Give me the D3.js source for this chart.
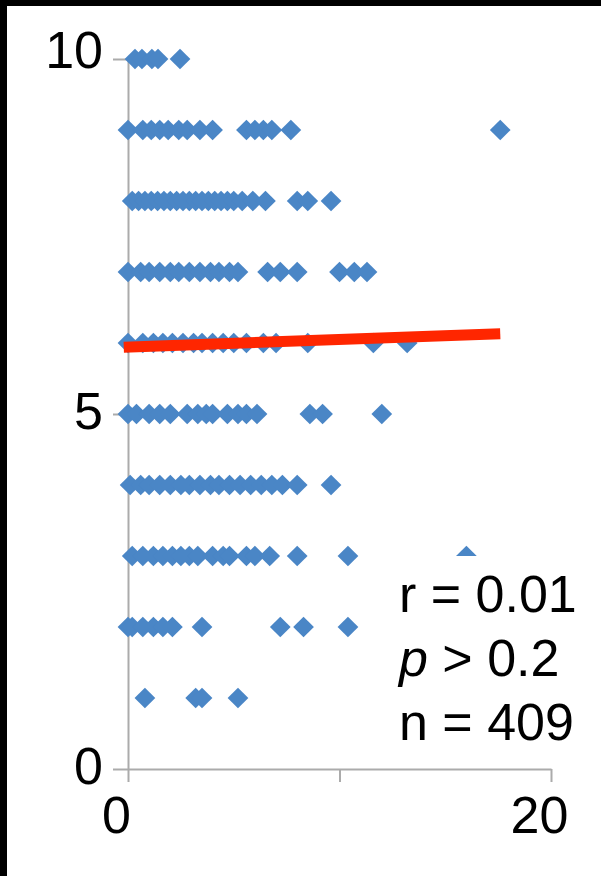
<!DOCTYPE html>
<html>
<head>
<meta charset="utf-8">
<script src="https://cdn.jsdelivr.net/npm/d3@7"></script>
<style>
  body { margin: 0; background: #fff; }
  svg { display: block; }
  .axis path, .axis line { stroke: #ababab; stroke-width: 2; }
  .axis text { font-family: "Liberation Sans", Arial, sans-serif; font-size: 52px; fill: #000; }
  .stats { font-family: "Liberation Sans", Arial, sans-serif; font-size: 52px; fill: #000; }
</style>
</head>
<body>
<div id="chart"></div>
<script>
// values, one array per rating level
const levels = [10, 9, 8, 7, 6, 5, 4, 3, 2, 1];
const row10 = [0.33, 0.66, 1.13, 1.42, 2.46];
const row9 = [0, 0.7, 1.1, 1.5, 1.9, 2.4, 2.8, 3.4, 4.0, 5.6, 6.0, 6.4, 6.8, 7.7, 17.6];
const row8 = [0.2, 0.5, 0.8, 1.1, 1.4, 1.7, 2.0, 2.3, 2.6, 2.9, 3.2, 3.5, 3.8, 4.1, 4.4, 4.7, 5.0, 5.4, 5.9, 6.5, 8.0, 8.5, 9.6];
const row7 = [0, 0.6, 1.0, 1.5, 2.0, 2.4, 2.9, 3.4, 3.9, 4.3, 4.8, 5.2, 6.6, 7.2, 8.0, 10.0, 10.7, 11.3];
const row6 = [0, 0.7, 1.2, 1.65, 2.1, 2.6, 3.1, 3.5, 4.0, 4.5, 5.0, 5.6, 6.4, 7.0, 8.5, 11.6, 13.2];
const row5 = [0, 0.4, 1.0, 1.5, 2.0, 2.8, 3.3, 3.7, 4.0, 4.7, 5.2, 5.6, 6.1, 8.6, 9.2, 12.0];
const row4 = [0.1, 0.6, 1.0, 1.5, 2.0, 2.5, 2.9, 3.4, 3.9, 4.3, 4.8, 5.3, 5.8, 6.3, 6.8, 7.3, 8.0, 9.6];
const row3 = [0.2, 0.7, 1.2, 1.65, 2.1, 2.5, 2.9, 3.3, 4.0, 4.5, 4.8, 5.6, 6.0, 6.7, 8.0, 10.4, 16.0];
const row2 = [0, 0.2, 0.7, 1.2, 1.65, 2.1, 3.5, 7.2, 8.3, 10.4];
const row1 = [0.8, 3.2, 3.5, 5.2];
const rows = [row10, row9, row8, row7, row6, row5, row4, row3, row2, row1];

// fitted line end points
const fitX = [-0.2, 17.6];
const fitY = [5.94, 6.13];

const xTicks = [0, 10, 20];
const xLabels = ["0", "", "20"];
const yTicks = [0, 5, 10];
const stats = ["r = 0.01", "p > 0.2", "n = 409"];

const W = 601, H = 876;

const svg = d3.select("#chart").append("svg")
    .attr("width", W)
    .attr("height", H);

svg.append("rect").attr("width", W).attr("height", H).attr("fill", "#fff");

const x = d3.scaleLinear().domain([0, 20]).range([128, 551]);
const y = d3.scaleLinear().domain([0, 10]).range([769, 59]);

// axes
const xAxis = svg.append("g")
    .attr("class", "axis")
    .attr("transform", `translate(0,${y(0)})`)
    .call(d3.axisBottom(x)
        .tickValues(xTicks)
        .tickSize(13)
        .tickSizeOuter(0)
        .tickPadding(14)
        .tickFormat((d, i) => xLabels[i]));
xAxis.selectAll("text").attr("dx", -12);

const yAxis = svg.append("g")
    .attr("class", "axis")
    .attr("transform", `translate(${x(0)},0)`)
    .call(d3.axisLeft(y)
        .tickValues(yTicks)
        .tickSize(15)
        .tickSizeOuter(0)
        .tickPadding(10));
yAxis.selectAll("text").attr("dy", d => d === 10 ? "0.16em" : "0.27em");

// points
let points = [];
rows.forEach((r, i) => r.forEach(v => points.push({x: v, y: levels[i]})));

const diamond = d3.symbol().type(d3.symbolSquare).size(215);
svg.append("g")
    .selectAll("path")
    .data(points)
    .join("path")
    .attr("d", diamond)
    .attr("transform", d => `translate(${x(d.x)},${y(d.y)}) rotate(45)`)
    .attr("fill", "#4a86c6");

// trend line
svg.append("line")
    .attr("x1", x(fitX[0]))
    .attr("y1", y(fitY[0]))
    .attr("x2", x(fitX[1]))
    .attr("y2", y(fitY[1]))
    .attr("stroke", "#ff2600")
    .attr("stroke-width", 11);

// stats box (white background hides the point behind it)
svg.append("rect")
    .attr("x", 390).attr("y", 556)
    .attr("width", 200).attr("height", 200)
    .attr("fill", "#fff");

const st = svg.append("text").attr("class", "stats");
stats.forEach((s, i) => {
    const t = st.append("tspan").attr("x", 399).attr("y", 612 + i * 64);
    if (s.startsWith("p")) {
        t.append("tspan").attr("font-style", "italic").text("p");
        t.append("tspan").text(s.slice(1));
    } else {
        t.text(s);
    }
});

// black frame on top and left
svg.append("rect").attr("x", 0).attr("y", 0).attr("width", W).attr("height", 6).attr("fill", "#000");
svg.append("rect").attr("x", 0).attr("y", 0).attr("width", 7).attr("height", H).attr("fill", "#000");
</script>
</body>
</html>
